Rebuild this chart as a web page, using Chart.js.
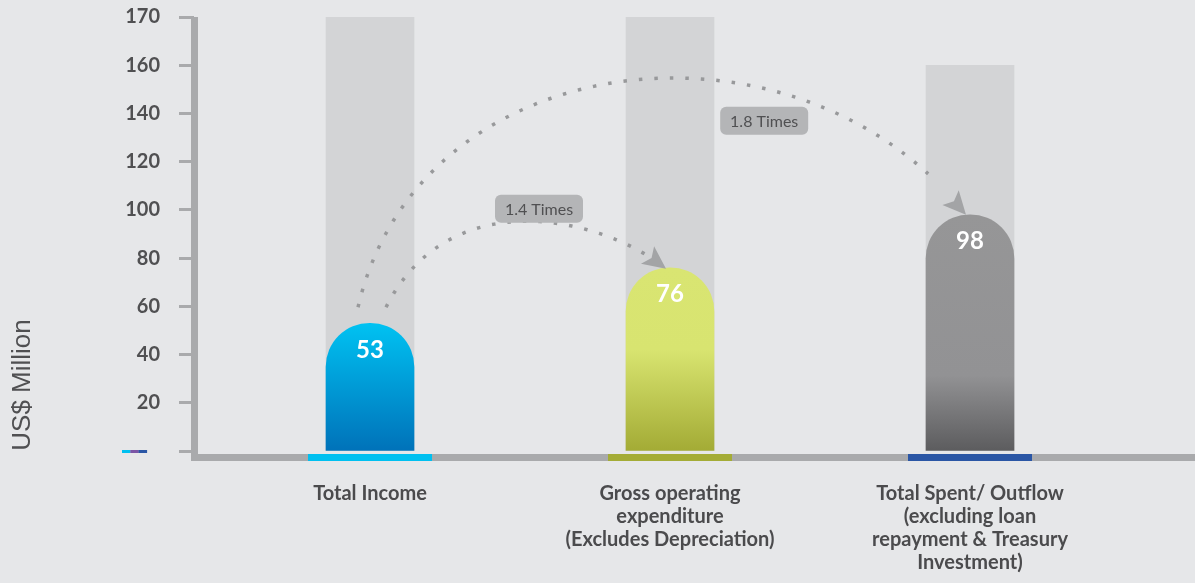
<!DOCTYPE html>
<html>
<head>
<meta charset="utf-8">
<script src="https://cdn.jsdelivr.net/npm/chart.js@4"></script>
<style>
  html, body { margin: 0; background: #e6e7e9; }
  #wrap { width: 1195px; height: 583px; position: relative; }
</style>
</head>
<body>
<div id="wrap"><canvas id="c"></canvas></div>
<script>
// data
const categories = [
  ['Total Income'],
  ['Gross operating', 'expenditure', '(Excludes Depreciation)'],
  ['Total Spent/ Outflow', '(excluding loan', 'repayment & Treasury', 'Investment)'],
]
const values = [53, 76, 98]
const trackTop = [180, 180, 160]
const yTickLabels = ['', '20', '40', '60', '80', '100', '120', '140', '160', '170']
const ratioLabels = ['1.4 Times', '1.8 Times']
const ratioTargets = [1, 2]

// styles
const AXIS = '#a9aaac'
const TRACK = '#d3d4d6'
const DOTS = '#98999b'
const BASE_SEG = ['#00c0f0', '#a4ac36', '#2a56a5']
const FILLS = [
  [[0, '#00c2f2'], [1, '#0072b9']],
  [[0, '#d9e572'], [0.45, '#d8e470'], [1, '#a3ab35']],
  [[0, '#969697'], [0.68, '#929294'], [1, '#5c5c5e']],
]

function barFill(ctx) {
  const { chart, dataIndex } = ctx
  const stops = FILLS[dataIndex]
  if (!chart.chartArea) return stops[0][1]
  const y = chart.scales.y
  const g = chart.ctx.createLinearGradient(0, y.getPixelForValue(values[dataIndex]), 0, y.getPixelForValue(0))
  stops.forEach(([s, c]) => g.addColorStop(s, c))
  return g
}

function bez(p0, p1, p2, p3, t) {
  const u = 1 - t
  const a = u * u * u, b = 3 * u * u * t, c = 3 * u * t * t, d = t * t * t
  return { x: a * p0.x + b * p1.x + c * p2.x + d * p3.x, y: a * p0.y + b * p1.y + c * p2.y + d * p3.y }
}

// arc geometry, offsets from the bars they join
const ARCS = [
  { start: [16, -16], c1: [64, -127], c2: [-62, -51], end: [-4, 1], t: 0.55, box: [-4, -13] },
  { start: [-12, -16], c1: [62, -267], c2: [-166, -212], end: [-4, 0], t: 0.7, box: [-9, 30] },
]

const axesPlugin = {
  id: 'axes',
  beforeDatasetsDraw(chart) {
    const { ctx, chartArea: { left, right, top } } = chart
    const zeroY = chart.scales.y.getPixelForValue(0)
    const bars = chart.getDatasetMeta(0).data
    ctx.save()
    ctx.fillStyle = AXIS
    ctx.fillRect(left - 3, top, 7, zeroY + 10 - top)
    ctx.fillRect(left - 3, zeroY + 3, right - left + 3, 7)
    bars.forEach((b, i) => {
      ctx.fillStyle = BASE_SEG[i]
      ctx.fillRect(b.x - 62, zeroY + 3, 124, 7)
    })
    // small colour key next to the zero tick
    ;['#00c0f0', '#7b55a5', '#2a56a5'].forEach((c, i) => {
      ctx.fillStyle = c
      ctx.fillRect(left - 72 + i * 8.3, zeroY - 1, 8.5, 3)
    })
    // axis title
    ctx.translate(23, zeroY - 66)
    ctx.rotate(-Math.PI / 2)
    ctx.fillStyle = '#505052'
    ctx.font = '26px "Liberation Sans", Arial, sans-serif'
    ctx.textAlign = 'center'
    ctx.textBaseline = 'middle'
    ctx.fillText('US$ Million', 0, 0)
    ctx.restore()
  },
}

const arcsPlugin = {
  id: 'arcs',
  afterDatasetsDraw(chart) {
    const ctx = chart.ctx
    const bars = chart.getDatasetMeta(0).data
    const src = bars[0]
    ctx.save()
    ARCS.forEach((a, k) => {
      const dst = bars[ratioTargets[k]]
      const p0 = { x: src.x + a.start[0], y: src.y + a.start[1] }
      const p3 = { x: dst.x + a.end[0], y: dst.y + a.end[1] }
      const p1 = { x: p0.x + a.c1[0], y: p0.y + a.c1[1] }
      const p2 = { x: p3.x + a.c2[0], y: p3.y + a.c2[1] }

      ctx.strokeStyle = DOTS
      ctx.lineWidth = 3.5
      ctx.lineCap = 'butt'
      ctx.setLineDash([3.5, 12])
      ctx.beginPath()
      ctx.moveTo(p0.x, p0.y)
      const tail = bez(p0, p1, p2, p3, 0.94)
      for (let t = 0.01; t <= 0.94; t += 0.01) {
        const p = bez(p0, p1, p2, p3, t)
        ctx.lineTo(p.x, p.y)
      }
      ctx.stroke()
      ctx.setLineDash([])

      // arrow head
      const ang = Math.atan2(p3.y - tail.y, p3.x - tail.x)
      ctx.save()
      ctx.translate(p3.x, p3.y)
      ctx.rotate(ang)
      ctx.fillStyle = '#a3a4a6'
      ctx.beginPath()
      ctx.moveTo(0, 0)
      ctx.lineTo(-23, -11)
      ctx.lineTo(-18, 0)
      ctx.lineTo(-23, 11)
      ctx.closePath()
      ctx.fill()
      ctx.restore()

      // ratio box
      const m = bez(p0, p1, p2, p3, a.t)
      const cx = m.x + a.box[0], cy = m.y + a.box[1]
      ctx.fillStyle = '#b4b5b7'
      ctx.beginPath()
      ctx.roundRect(cx - 44, cy - 14, 88, 28, 6)
      ctx.fill()
      ctx.fillStyle = '#505052'
      ctx.font = '16px Lato'
      ctx.textAlign = 'center'
      ctx.textBaseline = 'middle'
      ctx.fillText(ratioLabels[k], cx, cy + 1)
    })

    // values inside the bars
    ctx.fillStyle = '#ffffff'
    ctx.font = 'bold 24px Lato'
    ctx.textAlign = 'center'
    ctx.textBaseline = 'middle'
    bars.forEach((b, i) => ctx.fillText(String(values[i]), b.x, b.y + 27))
    ctx.restore()
  },
}

new Chart(document.getElementById('c'), {
  type: 'bar',
  data: {
    datasets: [
      {
        data: values.map((v, i) => ({ x: i, y: v })),
        backgroundColor: barFill,
        borderRadius: { topLeft: 44, topRight: 44, bottomLeft: 0, bottomRight: 0 },
        borderSkipped: false,
        barThickness: 88,
        grouped: false,
        order: 0,
      },
      {
        data: trackTop.map((v, i) => ({ x: i, y: v })),
        backgroundColor: TRACK,
        barThickness: 88,
        grouped: false,
        order: 1,
      },
    ],
  },
  options: {
    responsive: true,
    maintainAspectRatio: false,
    animation: false,
    layout: { padding: { top: 17, left: 0, right: 0, bottom: 0 } },
    plugins: { legend: { display: false }, tooltip: { enabled: false } },
    scales: {
      x: {
        type: 'linear',
        offset: false,
        min: -0.5867,
        max: 2.75,
        afterBuildTicks: s => { s.ticks = categories.map((_, i) => ({ value: i })) },
        afterFit: s => { s.height = 132; s.paddingLeft = 0; s.paddingRight = 0 },
        grid: { display: false, drawTicks: false },
        border: { display: false },
        ticks: {
          callback: v => categories[v],
          padding: 31,
          color: '#4b4b4d',
          maxRotation: 0,
          autoSkip: false,
          font: { family: 'Lato', weight: 'bold', size: 20, lineHeight: '23px' },
        },
      },
      y: {
        min: 0,
        max: 180,
        afterFit: s => { s.width = 194; s.paddingTop = 0; s.paddingBottom = 0 },
        grid: { drawOnChartArea: false, tickLength: 15, tickWidth: 3, tickColor: AXIS, color: AXIS },
        border: { display: false },
        ticks: {
          stepSize: 20,
          padding: 19,
          color: '#505052',
          font: { family: 'Lato', weight: 'bold', size: 20 },
          callback: (v, i) => yTickLabels[i],
        },
      },
    },
  },
  plugins: [axesPlugin, arcsPlugin],
})
</script>
</body>
</html>
